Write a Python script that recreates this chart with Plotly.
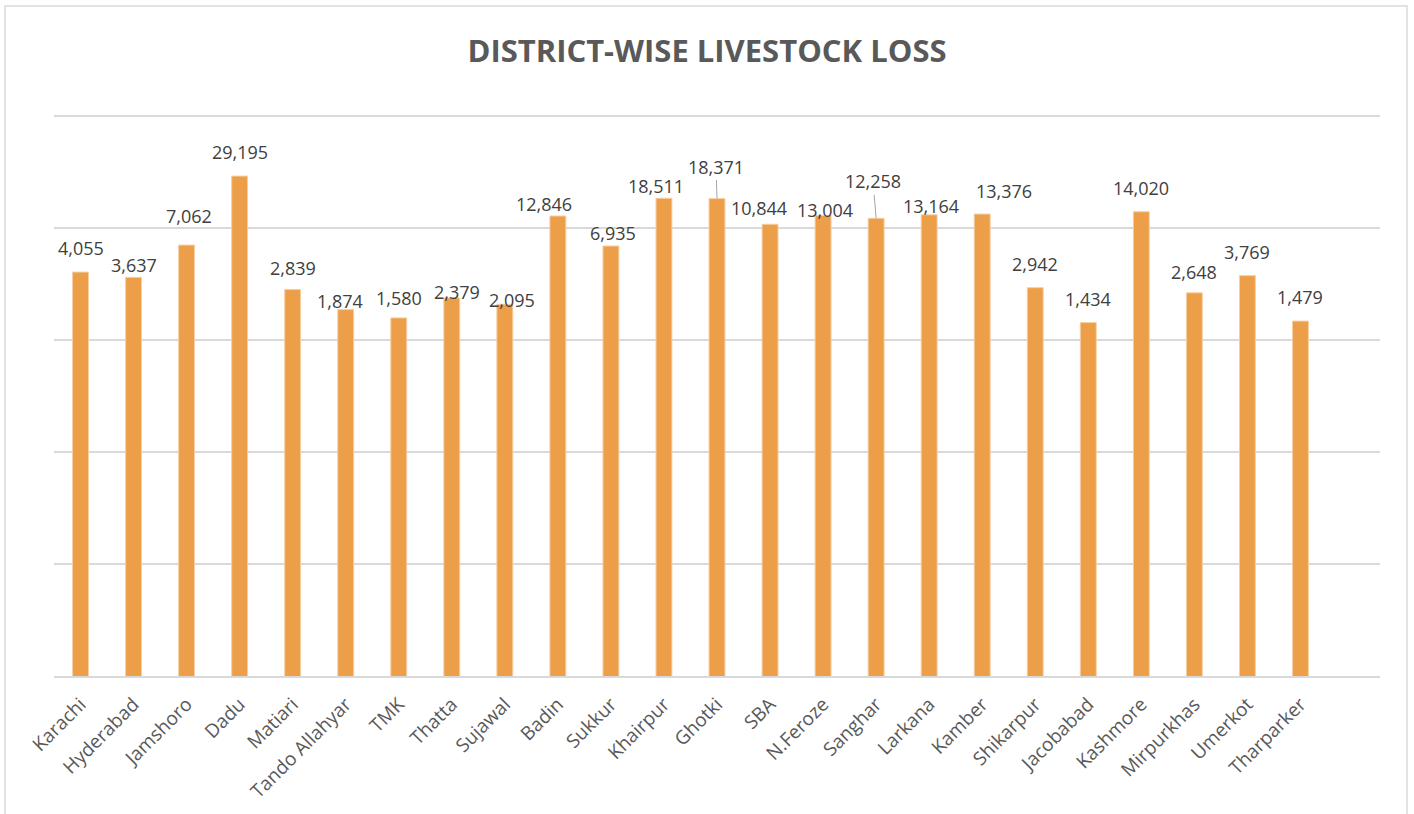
import numpy as np
import plotly.graph_objects as go

# === DATA ===
districts = ["Karachi", "Hyderabad", "Jamshoro", "Dadu", "Matiari", "Tando Allahyar", "TMK",
             "Thatta", "Sujawal", "Badin", "Sukkur", "Khairpur", "Ghotki", "SBA", "N.Feroze",
             "Sanghar", "Larkana", "Kamber", "Shikarpur", "Jacobabad", "Kashmore", "Mirpurkhas",
             "Umerkot", "Tharparker"]
livestock_loss = [4055, 3637, 7062, 29195, 2839, 1874, 1580, 2379, 2095, 12846, 6935, 18511,
                  18371, 10844, 13004, 12258, 13164, 13376, 2942, 1434, 14020, 2648, 3769, 1479]

# label placement tweaks (px) mimicking the hand-moved Excel labels: name -> (dx, dy above bar top)
label_shift = {
    "Hyderabad": (0, 12), "Jamshoro": (2, 29), "Tando Allahyar": (-6, 9), "TMK": (0, 20),
    "Thatta": (5, 6), "Sujawal": (7, 4), "Badin": (-14, 12), "Sukkur": (2, 13),
    "Khairpur": (-8, 12), "SBA": (-11, 16), "N.Feroze": (2, 5), "Larkana": (2, 9),
    "Kamber": (22, 23), "Matiari": (0, 21), "Mirpurkhas": (0, 21),
}
leader_labels = {"Ghotki": (-1, -32), "Sanghar": (-3, -37)}

# === STYLE ===
bar_color = "#EC9E48"
grid_color = "#D9D9D9"
text_color = "#404040"
axis_text = "#595959"
font_family = "Open Sans"

W, H = 1414, 814
y_top = 5.02  # a hair above 1e5 so the top gridline is kept
m_l, m_r, m_t, m_b = 54, 34, 114, 138

fig = go.Figure()
fig.add_trace(go.Bar(
    x=districts, y=livestock_loss,
    marker=dict(color=bar_color, line=dict(color="#F6CFA3", width=1)),
    width=0.3, hoverinfo="x+y",
))

# data labels
for name, val in zip(districts, livestock_loss):
    txt = f"{val:,}"
    if name in leader_labels:
        ax, ay = leader_labels[name]
        fig.add_annotation(x=name, y=np.log10(val), text=txt, showarrow=True,
                           arrowhead=0, arrowwidth=1, arrowcolor="#A6A6A6",
                           ax=ax, ay=ay, standoff=0,
                           font=dict(size=18, color=text_color, family=font_family))
    else:
        dx, dy = label_shift.get(name, (0, 24))
        fig.add_annotation(x=name, y=np.log10(val), text=txt, showarrow=False,
                           xshift=dx, yshift=dy, yanchor="middle",
                           font=dict(size=18, color=text_color, family=font_family))

# outer chart border
pw, ph = W - m_l - m_r, H - m_t - m_b
fig.add_shape(type="rect", xref="paper", yref="paper",
              x0=(5 - m_l) / pw, x1=(1407 - m_l) / pw,
              y0=(H - m_b - 830) / ph, y1=(H - m_b - 6) / ph,
              line=dict(color=grid_color, width=1.5), fillcolor="rgba(0,0,0,0)", layer="below")

fig.update_layout(
    width=W, height=H,
    margin=dict(l=m_l, r=m_r, t=m_t, b=m_b, autoexpand=False),
    paper_bgcolor="white", plot_bgcolor="white",
    font=dict(family=font_family, color=axis_text),
    title=dict(text="<b>DISTRICT-WISE LIVESTOCK LOSS</b>", x=0.5, xanchor="center",
               y=1 - 51 / H, yanchor="middle", automargin=False,
               font=dict(size=31, color=axis_text, family=font_family)),
    showlegend=False,
    bargap=0.7,
    xaxis=dict(range=[-0.5, 24.5], tickangle=-45, tickfont=dict(size=19, color=axis_text),
               showgrid=False, showline=True, linecolor=grid_color, linewidth=1.5,
               ticks="", ticklabelstandoff=8, automargin=False, fixedrange=True),
    yaxis=dict(type="log", range=[0, y_top], dtick=1, showticklabels=False,
               showgrid=True, gridcolor=grid_color, gridwidth=1.5,
               zeroline=False, showline=False, ticks="", automargin=False),
)

# page body has an 8px default margin; drop it so the chart sits at the window origin
fig.write_html("out.html", config={"displayModeBar": False},
               post_script="document.body.style.margin='0';")
